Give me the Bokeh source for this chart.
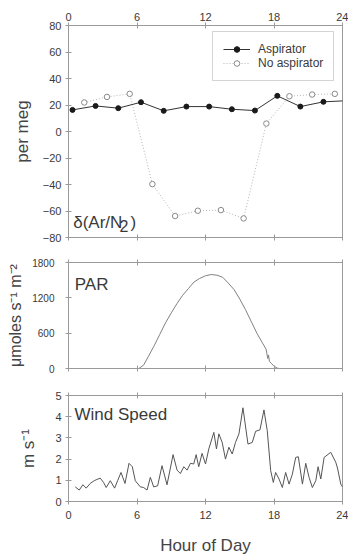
from bokeh.plotting import figure
from bokeh.models import (LinearAxis, Range1d, FixedTicker, Label, Legend, LegendItem)
from bokeh.layouts import column
from bokeh.embed import file_html
from bokeh.resources import INLINE

# ---------------- data ----------------
hour_ticks = [0, 6, 12, 18, 24]

asp_hour = [0.35, 2.37, 4.36, 6.35, 8.34, 10.33, 12.32, 14.31, 16.33, 18.29, 20.31, 22.33, 24.3]
asp_val = [16.3, 19.3, 17.6, 22.1, 15.6, 18.8, 18.8, 16.8, 15.8, 26.9, 18.8, 22.4, 23.2]

noasp_hour = [1.38, 3.37, 5.36, 7.35, 9.34, 11.33, 13.35, 15.34, 17.33, 19.35, 21.34, 23.33]
noasp_val = [21.9, 26.1, 28.4, -39.7, -63.8, -59.8, -59.3, -65.6, 6.0, 26.6, 27.9, 28.4]

par_hour = [6.15, 6.58, 7.0, 7.5, 8.0, 8.5, 9.0, 9.5, 10.0, 10.5, 11.0, 11.5, 12.0, 12.5,
            13.0, 13.5, 14.0, 14.5, 15.0, 15.5, 16.0, 16.5, 17.0, 17.3, 17.38, 17.45, 17.52,
            17.6, 17.8, 18.0, 18.3, 18.5]
par_val = [0, 57, 206, 385, 581, 776, 944, 1102, 1243, 1357, 1470, 1530, 1575, 1595,
           1585, 1550, 1450, 1340, 1180, 1000, 800, 600, 430, 330, 250, 170, 230,
           120, 80, 40, 5, 0]

wind_hour = [0.59, 0.94, 1.26, 1.55, 1.9, 2.25, 2.49, 2.78, 3.07, 3.3, 3.66, 4.04, 4.3, 4.6,
             4.95, 5.3, 5.59, 5.85, 6.29, 6.58, 6.88, 7.17, 7.46, 7.81, 8.19, 8.63, 9.16,
             9.51, 9.8, 10.1, 10.39, 10.68, 10.97, 11.18, 11.41, 11.7, 12.0, 12.29, 12.73,
             12.96, 13.17, 13.46, 13.75, 14.05, 14.34, 14.63, 14.93, 15.28, 15.72, 16.1,
             16.39, 16.77, 17.12, 17.41, 17.71, 17.94, 18.14, 18.44, 18.73, 19.02, 19.32,
             19.61, 19.9, 20.13, 20.49, 20.78, 21.07, 21.36, 21.66, 21.86, 22.1, 22.39,
             22.97, 23.41, 23.56, 23.85, 24.0]
wind_val = [0.69, 0.54, 0.79, 0.63, 0.85, 0.98, 1.04, 1.1, 0.9, 0.66, 0.98, 0.63, 0.98, 1.37,
            0.85, 1.8, 1.64, 0.98, 0.69, 0.66, 0.54, 1.14, 0.69, 0.74, 1.69, 0.79, 2.21,
            1.48, 1.32, 1.64, 1.48, 1.8, 1.77, 2.21, 1.64, 2.27, 1.77, 2.48, 3.26,
            2.48, 3.19, 2.79, 2.0, 2.56, 2.24, 2.79, 3.19, 4.42, 2.71, 2.79,
            3.31, 3.38, 4.32, 3.34, 1.45, 0.9, 1.37, 1.06, 0.66, 1.37, 0.82,
            1.29, 2.08, 2.11, 0.82, 1.8, 1.14, 0.66, 0.98, 1.64, 1.06, 2.08,
            2.32, 1.85, 1.58, 0.82, 0.69]

FONT = "Liberation Sans"
AX = "#9a9a9a"
TXT = "#3a3a3a"

xr = Range1d(0, 24)


def base_fig(height, y0, y1, top, bottom):
    p = figure(width=348, height=height, x_range=xr, y_range=Range1d(y0, y1),
               output_backend="svg", toolbar_location=None,
               x_axis_location=None, y_axis_location=None,
               min_border_left=68, min_border_right=6,
               min_border_top=top, min_border_bottom=bottom)
    p.grid.visible = False
    p.outline_line_color = AX
    p.background_fill_color = "white"
    p.border_fill_color = "white"
    return p


def style_axis(ax, ticks, labels=True, label_size="11px", standoff=4):
    ax.ticker = FixedTicker(ticks=ticks)
    ax.axis_line_color = AX
    ax.major_tick_line_color = AX
    ax.major_tick_in = 3
    ax.major_tick_out = 3
    ax.minor_tick_line_color = None
    ax.major_label_text_font = FONT
    if labels:
        ax.major_label_text_color = TXT
        ax.major_label_text_font_size = label_size
        ax.major_label_standoff = standoff
    else:
        # tick marks only: labels are not painted at all
        ax.major_label_text_color = None
        ax.major_label_text_font_size = "1px"
        ax.major_label_standoff = 0
    ax.axis_label_text_font = FONT
    ax.axis_label_text_font_style = "normal"
    ax.axis_label_text_color = "#444444"
    ax.axis_label_text_font_size = "17px"
    return ax


# ---------------- panel 1 ----------------
p1 = base_fig(249, -80, 80, 25, 12)
ax = style_axis(LinearAxis(), hour_ticks, True, "11px", 2)
p1.add_layout(ax, "above")
ax = style_axis(LinearAxis(), hour_ticks, False)
p1.add_layout(ax, "below")
ax = style_axis(LinearAxis(axis_label="per meg"), list(range(-80, 81, 20)), True, "11px", 4)
ax.axis_label_standoff = 8
p1.add_layout(ax, "left")

l_no = p1.line(noasp_hour, noasp_val, line_color="#b5b5b5", line_width=1, line_dash="1 2")
s_no = p1.scatter(noasp_hour, noasp_val, size=5.5, marker="circle", fill_color="white",
                  line_color="#8a8a8a", line_width=1)
l_as = p1.line(asp_hour, asp_val, line_color="#333333", line_width=1)
s_as = p1.scatter(asp_hour, asp_val, size=5, marker="circle", fill_color="#1a1a1a",
                  line_color="#1a1a1a")

legend = Legend(items=[LegendItem(label="Aspirator", renderers=[l_as, s_as]),
                       LegendItem(label="No aspirator", renderers=[l_no, s_no])],
                location=(144, 156), padding=10, spacing=0, margin=0,
                glyph_width=27, glyph_height=14, label_height=14, label_standoff=8,
                label_text_font=FONT, label_text_font_size="12px", label_text_color=TXT,
                border_line_color="#aaaaaa", border_line_width=1,
                background_fill_color="white", background_fill_alpha=1)
p1.add_layout(legend, "center")

p1.add_layout(Label(x=0.41, y=-68.5, text="δ(Ar/N", text_font=FONT, text_font_size="17px",
                    text_color=TXT, text_baseline="alphabetic"))
p1.add_layout(Label(x=4.47, y=-71.0, text="2", text_font=FONT, text_font_size="16px",
                    text_color=TXT, text_baseline="alphabetic"))
p1.add_layout(Label(x=5.43, y=-68.5, text=")", text_font=FONT, text_font_size="17px",
                    text_color=TXT, text_baseline="alphabetic"))

# ---------------- panel 2 ----------------
p2 = base_fig(132, 0, 1800, 13, 13)
ax = style_axis(LinearAxis(), hour_ticks, False)
p2.add_layout(ax, "above")
ax = style_axis(LinearAxis(), hour_ticks, False)
p2.add_layout(ax, "below")
ax = style_axis(LinearAxis(axis_label="μmoles s⁻¹ m⁻²"), [0, 600, 1200, 1800], True, "10px", 11)
ax.axis_label_text_font_size = "16px"
ax.axis_label_standoff = 5
p2.add_layout(ax, "left")
p2.line(par_hour, par_val, line_color="#808080", line_width=1)
p2.add_layout(Label(x=0.55, y=1431, text="PAR", text_font=FONT, text_font_size="17px",
                    text_color=TXT, text_baseline="alphabetic"))

# ---------------- panel 3 ----------------
p3 = base_fig(176, 0, 5, 14, 56)
ax = style_axis(LinearAxis(), hour_ticks, False)
p3.add_layout(ax, "above")
ax = style_axis(LinearAxis(axis_label="Hour of Day"), hour_ticks, True, "11px", 6)
ax.axis_label_standoff = 14
p3.add_layout(ax, "below")
ax = style_axis(LinearAxis(axis_label="m s⁻¹"), [0, 1, 2, 3, 4, 5], True, "11px", 4)
ax.axis_label_standoff = 14
p3.add_layout(ax, "left")
p3.line(wind_hour, wind_val, line_color="#555555", line_width=1)
p3.add_layout(Label(x=0.53, y=4.10, text="Wind Speed", text_font=FONT, text_font_size="17px",
                    text_color=TXT, text_baseline="alphabetic"))

layout = column(p1, p2, p3, spacing=0)
open("out.html", "w").write(file_html(layout, INLINE))
